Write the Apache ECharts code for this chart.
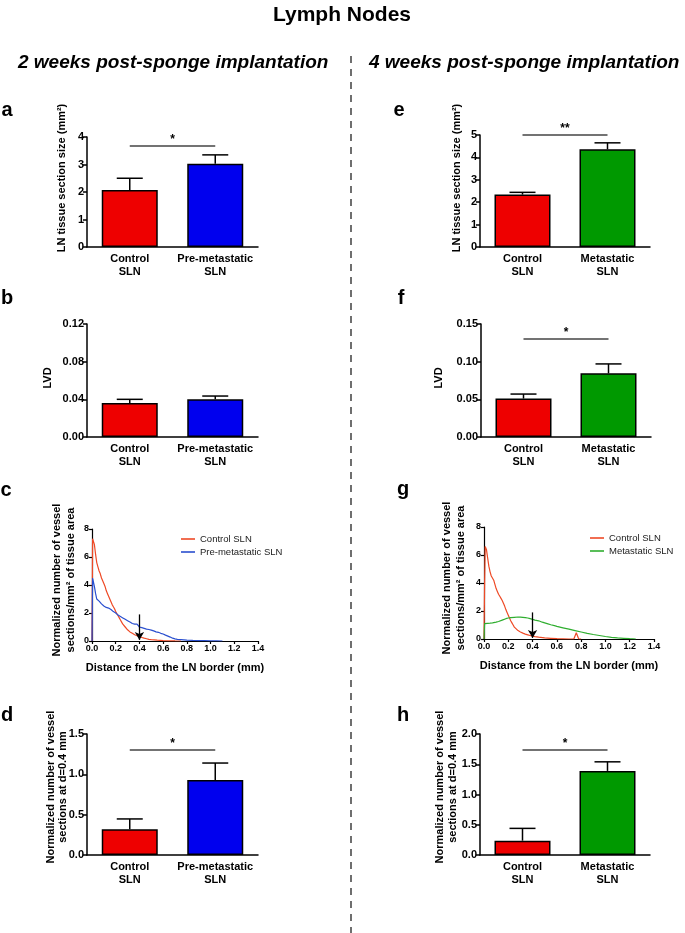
<!DOCTYPE html>
<html><head><meta charset="utf-8">
<script src="https://cdn.jsdelivr.net/npm/echarts@6/dist/echarts.min.js"></script>
<style>html,body{margin:0;padding:0;background:#fff}#c{width:685px;height:933px}</style>
</head><body><div id="c"></div>
<script>
const FONT = "'Liberation Sans', Arial, sans-serif";

// ---- categories ----
const cats2w = ['Control\nSLN', 'Pre-metastatic\nSLN'];
const cats4w = ['Control\nSLN', 'Metastatic\nSLN'];

// ---- a: LN tissue section size, 2 weeks ----
const sizeMean2w = [2.07, 3.03];
const sizeUpper2w = [2.50, 3.35];
const sizeSig2w = 3.67;
// ---- e: LN tissue section size, 4 weeks ----
const sizeMean4w = [2.34, 4.36];
const sizeUpper4w = [2.44, 4.65];
const sizeSig4w = 5.0;
// ---- b: LVD, 2 weeks ----
const lvdMean2w = [0.036, 0.040];
const lvdUpper2w = [0.040, 0.0435];
// ---- f: LVD, 4 weeks ----
const lvdMean4w = [0.051, 0.0845];
const lvdUpper4w = [0.057, 0.097];
const lvdSig4w = 0.131;
// ---- d: vessels at d=0.4mm, 2 weeks ----
const d04Mean2w = [0.32, 0.93];
const d04Upper2w = [0.447, 1.14];
const d04Sig2w = 1.31;
// ---- h: vessels at d=0.4mm, 4 weeks ----
const d04Mean4w = [0.237, 1.39];
const d04Upper4w = [0.44, 1.54];
const d04Sig4w = 1.74;

// ---- c: distance profiles, 2 weeks ----
const ctrlCurve2w = [[0,0],[0.005,7.3],[0.01,7.35],[0.02,6.9],[0.03,6.2],[0.04,5.6],[0.05,5.3],[0.06,5.0],[0.07,4.8],[0.08,4.5],[0.09,4.3],[0.1,4.1],[0.11,3.9],[0.12,3.6],[0.13,3.4],[0.14,3.2],[0.15,3.0],[0.16,2.8],[0.17,2.6],[0.18,2.45],[0.19,2.3],[0.2,2.1],[0.21,1.95],[0.22,1.8],[0.23,1.65],[0.24,1.5],[0.25,1.35],[0.26,1.2],[0.27,1.1],[0.28,1.0],[0.29,0.9],[0.3,0.8],[0.32,0.65],[0.34,0.55],[0.36,0.45],[0.38,0.38],[0.4,0.3],[0.42,0.25],[0.44,0.2],[0.46,0.16],[0.48,0.12],[0.5,0.1],[0.55,0.06],[0.6,0.03],[0.65,0.015],[0.7,0.005],[0.75,0]];
const preCurve2w = [[0,0],[0.005,4.5],[0.01,4.45],[0.02,3.9],[0.03,3.4],[0.04,3.0],[0.05,2.9],[0.06,2.85],[0.07,2.75],[0.08,2.65],[0.09,2.6],[0.1,2.5],[0.11,2.45],[0.12,2.4],[0.13,2.38],[0.14,2.35],[0.15,2.3],[0.16,2.25],[0.17,2.18],[0.18,2.1],[0.19,2.05],[0.2,2.0],[0.22,1.85],[0.24,1.75],[0.26,1.65],[0.28,1.55],[0.3,1.45],[0.32,1.35],[0.34,1.25],[0.36,1.2],[0.37,1.15],[0.38,1.2],[0.4,1.0],[0.42,0.95],[0.44,0.9],[0.46,0.85],[0.48,0.82],[0.5,0.78],[0.52,0.72],[0.54,0.65],[0.56,0.62],[0.58,0.55],[0.6,0.5],[0.62,0.42],[0.64,0.35],[0.66,0.28],[0.68,0.2],[0.7,0.15],[0.72,0.12],[0.75,0.1],[0.8,0.06],[0.85,0.04],[0.9,0.03],[0.95,0.02],[1.0,0.01],[1.05,0.005],[1.1,0]];
// ---- g: distance profiles, 4 weeks ----
const ctrlCurve4w = [[0,0],[0.005,4],[0.01,6.6],[0.02,6.4],[0.03,5.8],[0.04,5.2],[0.05,4.8],[0.06,4.5],[0.07,4.4],[0.08,4.2],[0.09,3.9],[0.1,3.6],[0.11,3.4],[0.12,3.2],[0.13,3.05],[0.14,2.9],[0.15,2.75],[0.16,2.55],[0.17,2.35],[0.18,2.1],[0.19,1.9],[0.2,1.7],[0.21,1.5],[0.22,1.3],[0.23,1.15],[0.24,1.0],[0.25,0.85],[0.26,0.75],[0.28,0.6],[0.3,0.5],[0.32,0.42],[0.34,0.35],[0.36,0.3],[0.38,0.25],[0.4,0.2],[0.42,0.17],[0.45,0.13],[0.5,0.08],[0.55,0.05],[0.6,0.02],[0.65,0.01],[0.7,0],[0.74,0],[0.76,0.45],[0.78,0],[0.8,0]];
const metCurve4w = [[0,0],[0.005,1.1],[0.01,1.15],[0.03,1.12],[0.05,1.13],[0.07,1.15],[0.1,1.2],[0.12,1.25],[0.15,1.35],[0.18,1.45],[0.2,1.5],[0.22,1.53],[0.25,1.55],[0.28,1.57],[0.3,1.56],[0.32,1.55],[0.34,1.53],[0.36,1.5],[0.38,1.45],[0.4,1.4],[0.42,1.35],[0.45,1.3],[0.48,1.2],[0.5,1.15],[0.52,1.1],[0.55,1.02],[0.58,0.95],[0.6,0.9],[0.65,0.8],[0.7,0.7],[0.75,0.6],[0.8,0.5],[0.85,0.4],[0.9,0.32],[0.95,0.25],[1.0,0.18],[1.05,0.12],[1.1,0.08],[1.15,0.05],[1.2,0.02],[1.25,0]];
const arrowX = 0.4, arrowTop = 1.9, arrowTip = 0.08;

const RED = '#ee0000', BLUE = '#0000ee', GREEN = '#009900';
const LRED = '#ee4a26', LBLUE = '#2a4fcf', LGREEN = '#2fae2f';

const grids = [
  {left: 87, top: 137, width: 171, height: 110},  // a
  {left: 480, top: 135, width: 170, height: 112}, // e
  {left: 87, top: 324, width: 171, height: 113},  // b
  {left: 481, top: 324, width: 170, height: 113}, // f
  {left: 92, top: 529, width: 166, height: 112},  // c
  {left: 484, top: 527, width: 170, height: 112}, // g
  {left: 87, top: 734, width: 171, height: 121},  // d
  {left: 480, top: 734, width: 170, height: 121}  // h
];

const xAxes = [], yAxes = [], series = [];

function errRender(params, api) {
  const x = api.value(0), lo = api.value(1), hi = api.value(2);
  const p0 = api.coord([x, lo]);
  const p1 = api.coord([x, hi]);
  const hw = 13;
  return {type: 'group', children: [
    {type: 'line', shape: {x1: p0[0], y1: p0[1], x2: p1[0], y2: p1[1]}, style: {stroke: '#000', lineWidth: 1.5}},
    {type: 'line', shape: {x1: p1[0] - hw, y1: p1[1], x2: p1[0] + hw, y2: p1[1]}, style: {stroke: '#000', lineWidth: 1.5}}
  ]};
}

function barPanel(idx, cats, means, uppers, colors, max, interval, dec, sig, sigLabel) {
  xAxes.push({
    gridIndex: idx, type: 'category', data: cats, boundaryGap: true,
    axisLine: {lineStyle: {color: '#000', width: 1.5}}, axisTick: {show: false},
    axisLabel: {interval: 0, hideOverlap: false, color: '#000', fontFamily: FONT, fontWeight: 'bold', fontSize: 11, lineHeight: 13, margin: 5}
  });
  yAxes.push({
    gridIndex: idx, type: 'value', min: 0, max: max, interval: interval,
    axisLine: {show: true, lineStyle: {color: '#000', width: 1.5}},
    axisTick: {show: true, length: 4, lineStyle: {color: '#000', width: 1.5}},
    splitLine: {show: false},
    axisLabel: {color: '#000', fontFamily: FONT, fontWeight: 'bold', fontSize: 11, margin: 3,
      formatter: v => v.toFixed(dec)}
  });
  const bar = {
    type: 'bar', xAxisIndex: idx, yAxisIndex: idx, barWidth: 56, silent: true,
    data: means.map((v, i) => ({value: v, itemStyle: {color: colors[i]}})),
    itemStyle: {borderColor: '#000', borderWidth: 1.5}
  };
  if (sig != null) {
    bar.markLine = {
      silent: true, symbol: 'none',
      lineStyle: {color: '#444', width: 1.5, type: 'solid'},
      label: {show: true, position: 'middle', formatter: sigLabel, color: '#000', fontFamily: FONT, fontWeight: 'bold', fontSize: 12, distance: 0},
      emphasis: {disabled: true},
      data: [[{coord: [0, sig]}, {coord: [1, sig]}]]
    };
  }
  series.push(bar);
  series.push({
    type: 'custom', xAxisIndex: idx, yAxisIndex: idx, silent: true, z: 5,
    renderItem: errRender, encode: {x: 0, y: [1, 2]},
    data: means.map((v, i) => [i, v, uppers[i]])
  });
}

function curvePanel(idx, curves) {
  xAxes.push({
    gridIndex: idx, type: 'value', min: 0, max: 1.4, interval: 0.2,
    axisLine: {lineStyle: {color: '#000', width: 1.2}},
    axisTick: {show: true, length: 3, lineStyle: {color: '#000', width: 1.2}},
    splitLine: {show: false},
    axisLabel: {color: '#000', fontFamily: FONT, fontWeight: 'bold', fontSize: 9, margin: 3, formatter: v => v.toFixed(1)},
    name: 'Distance from the LN border (mm)', nameLocation: 'middle', nameGap: 21,
    nameTextStyle: {color: '#000', fontFamily: FONT, fontWeight: 'bold', fontSize: 11}
  });
  yAxes.push({
    gridIndex: idx, type: 'value', min: 0, max: 8, interval: 2,
    axisLine: {show: true, lineStyle: {color: '#000', width: 1.2}},
    axisTick: {show: true, length: 3, lineStyle: {color: '#000', width: 1.2}},
    splitLine: {show: false},
    axisLabel: {color: '#000', fontFamily: FONT, fontWeight: 'bold', fontSize: 9, margin: 3}
  });
  curves.forEach((c, k) => {
    const s = {
      type: 'line', name: c.name, xAxisIndex: idx, yAxisIndex: idx, data: c.data,
      showSymbol: false, symbol: 'none', color: c.color, silent: true,
      lineStyle: {color: c.color, width: 1.2}, z: 3 + k
    };
    if (k === 0) {
      s.markLine = {
        silent: true, symbol: ['none', 'arrow'], symbolSize: [7, 8],
        lineStyle: {color: '#000', width: 1.3, type: 'solid'},
        label: {show: false}, emphasis: {disabled: true},
        data: [[{coord: [arrowX, arrowTop]}, {coord: [arrowX, arrowTip]}]]
      };
    }
    series.push(s);
  });
}

barPanel(0, cats2w, sizeMean2w, sizeUpper2w, [RED, BLUE], 4, 1, 0, sizeSig2w, '*');
barPanel(1, cats4w, sizeMean4w, sizeUpper4w, [RED, GREEN], 5, 1, 0, sizeSig4w, '**');
barPanel(2, cats2w, lvdMean2w, lvdUpper2w, [RED, BLUE], 0.12, 0.04, 2, null, '');
barPanel(3, cats4w, lvdMean4w, lvdUpper4w, [RED, GREEN], 0.15, 0.05, 2, lvdSig4w, '*');
curvePanel(4, [{name: 'Control SLN', data: ctrlCurve2w, color: LRED}, {name: 'Pre-metastatic SLN', data: preCurve2w, color: LBLUE}]);
curvePanel(5, [{name: 'Control SLN', data: ctrlCurve4w, color: LRED}, {name: 'Metastatic SLN', data: metCurve4w, color: LGREEN}]);
barPanel(6, cats2w, d04Mean2w, d04Upper2w, [RED, BLUE], 1.5, 0.5, 1, d04Sig2w, '*');
barPanel(7, cats4w, d04Mean4w, d04Upper4w, [RED, GREEN], 2, 0.5, 1, d04Sig4w, '*');

const legendCommon = {
  orient: 'vertical', icon: 'rect', itemWidth: 14, itemHeight: 1.6, itemGap: 3,
  selectedMode: false,
  textStyle: {color: '#222', fontFamily: FONT, fontSize: 9.5}
};

function txt(x, y, text, size, extra) {
  return Object.assign({type: 'text', x: x, y: y, silent: true,
    style: Object.assign({text: text, fill: '#000', font: 'bold ' + size + 'px ' + FONT,
      textAlign: 'center', textVerticalAlign: 'middle'}, extra || {})});
}
function vtxt(x, y, text, lh) {
  return {type: 'text', x: x, y: y, rotation: Math.PI / 2, silent: true,
    style: {text: text, fill: '#000', font: 'bold 11px ' + FONT, textAlign: 'center', textVerticalAlign: 'middle', lineHeight: lh || 13}};
}

const graphic = [
  txt(342, 15, 'Lymph Nodes', 21),
  {type: 'text', x: 18, y: 63, silent: true, style: {text: '2 weeks post-sponge implantation', fill: '#000', font: 'italic bold 19px ' + FONT, textAlign: 'left', textVerticalAlign: 'middle'}},
  {type: 'text', x: 369, y: 63, silent: true, style: {text: '4 weeks post-sponge implantation', fill: '#000', font: 'italic bold 19px ' + FONT, textAlign: 'left', textVerticalAlign: 'middle'}},
  {type: 'line', silent: true, shape: {x1: 351, y1: 56, x2: 351, y2: 933}, style: {stroke: '#222', lineWidth: 1.3, lineDash: [7, 6]}},
  txt(7, 110, 'a', 20), txt(399, 110, 'e', 20),
  txt(7, 298, 'b', 20), txt(401, 298, 'f', 20),
  txt(6, 490, 'c', 20), txt(403, 489, 'g', 20),
  txt(7, 715, 'd', 20), txt(403, 715, 'h', 20),
  vtxt(62, 178, 'LN tissue section size (mm²)'),
  vtxt(457, 178, 'LN tissue section size (mm²)'),
  vtxt(48, 378, 'LVD'),
  vtxt(439, 378, 'LVD'),
  vtxt(64, 580, 'Normalized number of vessel\nsections/mm² of tissue area', 14),
  vtxt(454, 578, 'Normalized number of vessel\nsections/mm² of tissue area', 14),
  vtxt(57, 787, 'Normalized number of vessel\nsections at d=0.4 mm', 12),
  vtxt(446, 787, 'Normalized number of vessel\nsections at d=0.4 mm', 13)
];

const chart = echarts.init(document.getElementById('c'), null, {renderer: 'canvas'});
chart.setOption({
  animation: false,
  backgroundColor: '#fff',
  grid: grids,
  xAxis: xAxes,
  yAxis: yAxes,
  legend: [
    Object.assign({}, legendCommon, {left: 176, top: 529, data: ['Control SLN', 'Pre-metastatic SLN']}),
    Object.assign({}, legendCommon, {left: 585, top: 528, data: ['Control SLN', 'Metastatic SLN']})
  ],
  series: series,
  graphic: graphic
});
</script></body></html>
